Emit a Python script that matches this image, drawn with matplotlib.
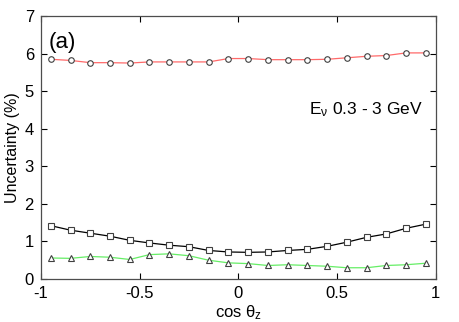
import numpy as np
import matplotlib
matplotlib.use("Agg")
import matplotlib.pyplot as plt

plt.rcParams.update({
    "font.family": ["Liberation Sans", "DejaVu Sans"],
    "font.size": 11,
    "xtick.direction": "in", "ytick.direction": "in",
    "xtick.top": True, "ytick.right": True,
    "mathtext.fontset": "custom", "mathtext.rm": "Liberation Sans",
    "mathtext.it": "Liberation Sans", "mathtext.sf": "Liberation Sans",
})

cos_z = [-0.95, -0.85, -0.75, -0.65, -0.55, -0.45, -0.35, -0.25, -0.15, -0.05,
         0.05, 0.15, 0.25, 0.35, 0.45, 0.55, 0.65, 0.75, 0.85, 0.95]
unc_red = [5.85, 5.82, 5.76, 5.76, 5.75, 5.78, 5.78, 5.78, 5.78, 5.87,
           5.87, 5.84, 5.84, 5.84, 5.85, 5.89, 5.93, 5.95, 6.02, 6.02]
unc_black = [1.42, 1.30, 1.22, 1.14, 1.03, 0.96, 0.90, 0.86, 0.76, 0.72,
             0.71, 0.72, 0.76, 0.79, 0.87, 0.98, 1.11, 1.20, 1.35, 1.46]
unc_green = [0.56, 0.55, 0.60, 0.58, 0.52, 0.65, 0.67, 0.62, 0.50, 0.43,
             0.41, 0.36, 0.38, 0.36, 0.34, 0.30, 0.30, 0.36, 0.38, 0.42]

fig = plt.figure(figsize=(4.6, 3.22), dpi=100)
ax = fig.add_axes([0.089, 0.1335, 0.858, 0.8165])

mk = dict(markerfacecolor="white", markeredgecolor="0.25", markersize=4.0, markeredgewidth=0.8)
ax.plot(cos_z, unc_red, "-o", color="#ff6a6a", lw=0.9, **mk)
ax.plot(cos_z, unc_black, "-s", color="black", lw=0.9, **mk)
ax.plot(cos_z, unc_green, "-^", color="#66ee66", lw=0.9, **mk)

ax.set_xlim(-1, 1)
ax.set_ylim(0, 7)
ax.set_xticks([-1, -0.5, 0, 0.5, 1])
ax.set_xticklabels(["-1", "-0.5", "0", "0.5", "1"])
ax.set_yticks(range(8))
ax.tick_params(labelsize=12, length=4, width=0.8, pad=5)
for s in ax.spines.values():
    s.set_linewidth(0.9)
    s.set_color("0.3")

ax.set_xlabel(r"cos $\theta_z$", fontsize=12, labelpad=2)
ax.set_ylabel("Uncertainty (%)", fontsize=11.5, labelpad=3)
ax.text(0.02, 0.94, "(a)", transform=ax.transAxes, fontsize=16, va="top", ha="left")
ax.text(0.968, 0.643, r"E$_\nu$ 0.3 - 3 GeV", transform=ax.transAxes, fontsize=12.5,
        va="center", ha="right")

fig.savefig("out.png", dpi=100)
